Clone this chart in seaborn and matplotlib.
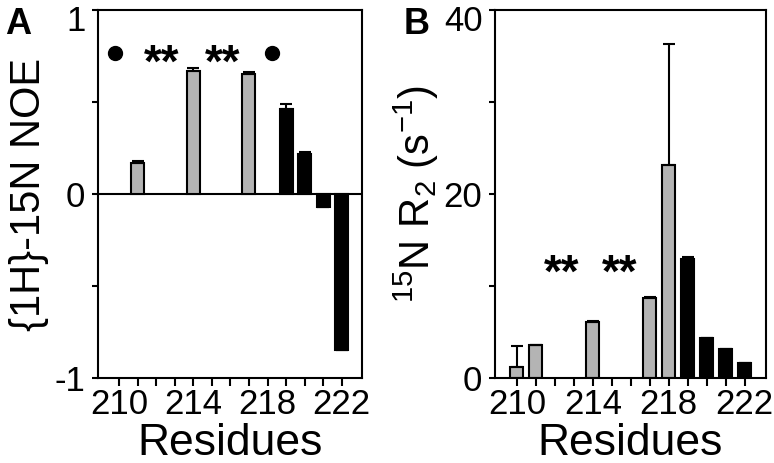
import matplotlib
matplotlib.use("Agg")
import matplotlib.pyplot as plt
import matplotlib.transforms as mtransforms
import seaborn as sns
import pandas as pd
import numpy as np

# panel A: {1H}-15N NOE
noe_res = [211, 214, 217, 219, 220, 221, 222]
noe_val = [0.17, 0.67, 0.65, 0.46, 0.22, -0.07, -0.85]
noe_err = [0.01, 0.015, 0.015, 0.03, 0.01, 0.0, 0.0]
noe_grp = ["gray", "gray", "gray", "black", "black", "black", "black"]

# panel B: 15N R2
r2_res = [210, 211, 214, 217, 218, 219, 220, 221, 222]
r2_val = [1.2, 3.6, 6.1, 8.7, 23.2, 12.9, 4.3, 3.1, 1.6]
r2_err = [2.3, 0.0, 0.1, 0.1, 13.1, 0.3, 0.1, 0.0, 0.0]
r2_grp = ["gray", "gray", "gray", "gray", "gray", "black", "black", "black", "black"]

xtick_labels = [210, 214, 218, 222]
palette = {"gray": "#b4b4b4", "black": "black"}

sns.set_style("ticks")
plt.rcParams['font.family'] = ['Liberation Sans', 'DejaVu Sans']
plt.rcParams['mathtext.default'] = 'regular'
for k in ['text.color', 'axes.labelcolor', 'xtick.color', 'ytick.color', 'axes.edgecolor']:
    plt.rcParams[k] = 'black'

fig = plt.figure(figsize=(7.74, 4.63), dpi=100)
axA = fig.add_axes([0.1266, 0.1836, 0.3411, 0.7948])
axB = fig.add_axes([0.6395, 0.1836, 0.3497, 0.7948])


def draw_bars(ax, res, val, err, grp):
    df = pd.DataFrame({"residue": res, "value": val, "group": grp})
    sns.barplot(data=df, x="residue", y="value", hue="group", palette=palette,
                native_scale=True, dodge=False, width=0.7, edgecolor="black",
                linewidth=1.5, legend=False, errorbar=None, ax=ax)
    up = np.array(err)
    ax.errorbar(res, val, yerr=[np.zeros_like(up), up], fmt="none",
                ecolor="black", elinewidth=1.5, capsize=4, capthick=1.5, zorder=3)


def style_axis(ax):
    ax.set_xlim(208.85, 223.1)
    ax.set_xticks(range(210, 223))
    ax.set_xticklabels([str(t) if t in xtick_labels else "" for t in range(210, 223)])
    for sp in ax.spines.values():
        sp.set_visible(True)
        sp.set_linewidth(1.5)
        sp.set_color("black")
    ax.tick_params(axis="x", length=6, width=1.5, labelsize=25, pad=1)
    ax.tick_params(axis="y", length=4, width=1.5, labelsize=25, pad=5)
    ax.set_xlabel("Residues", fontsize=32, labelpad=2)


def nudge_top_label(ax):
    # top tick label sits a little below the tick so it stays inside the figure
    lbl = ax.get_yticklabels()[-1]
    lbl.set_transform(lbl.get_transform() +
                      mtransforms.ScaledTranslation(0, -6 / 72, fig.dpi_scale_trans))


# panel A
draw_bars(axA, noe_res, noe_val, noe_err, noe_grp)
axA.axhline(0, color="black", lw=1.5, zorder=0.5)
style_axis(axA)
axA.set_ylim(-1, 1)
axA.set_yticks([-1, -0.5, 0, 0.5, 1])
axA.set_yticklabels(["-1", "", "0", "", "1"])
nudge_top_label(axA)
axA.set_ylabel("{1H}-15N NOE", fontsize=30, labelpad=4)
axA.plot([209.75, 218.25], [0.765, 0.765], "o", color="black", ms=10)
for xs in [212.3, 215.6]:
    axA.text(xs, 0.70, "**", fontsize=33, fontweight="bold", ha="center", va="center")

# panel B
draw_bars(axB, r2_res, r2_val, r2_err, r2_grp)
style_axis(axB)
axB.set_ylim(0, 40)
axB.set_yticks([0, 10, 20, 30, 40])
axB.set_yticklabels(["0", "", "20", "", "40"])
nudge_top_label(axB)
axB.set_ylabel("$^{15}$N R$_2$ (s$^{-1}$)", fontsize=30, labelpad=2)
for xs in [212.36, 215.4]:
    axB.text(xs, 11.2, "**", fontsize=33, fontweight="bold", ha="center", va="center")

fig.text(0.006, 0.985, "A", fontsize=26, fontweight="bold", va="top", ha="left")
fig.text(0.522, 0.985, "B", fontsize=26, fontweight="bold", va="top", ha="left")

fig.savefig("out.png", dpi=100)
